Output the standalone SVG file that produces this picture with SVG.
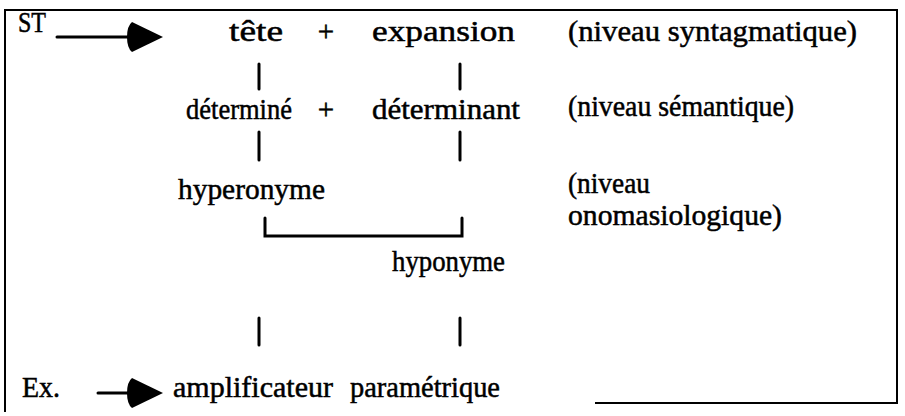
<svg xmlns="http://www.w3.org/2000/svg" width="905" height="416" viewBox="0 0 905 416">
<style>
text{font-family:"Liberation Serif","Times New Roman",serif;font-size:29px;fill:#000;stroke:#000;stroke-width:0.5}
.ln{stroke:#000;stroke-width:3;fill:none;stroke-linecap:round}
.frame{stroke:#000;stroke-width:2;fill:none}
</style>
<defs>
<path id="head" d="M0,0 Q0,-11 5,-15 L36,0 L5,15 Q0,11 0,0 Z" fill="#000"/>
</defs>
<rect width="905" height="416" fill="#fff"/>
<path class="frame" d="M5,412 L5,10 L897,10 L897,403 L595,403"/>
<g id="connectors">
<line class="ln" x1="57" y1="37" x2="130" y2="37"/>
<use href="#head" x="127" y="37"/>
<line class="ln" x1="259" y1="64" x2="259" y2="89"/>
<line class="ln" x1="460" y1="64" x2="460" y2="89"/>
<line class="ln" x1="259" y1="132" x2="259" y2="160"/>
<line class="ln" x1="460" y1="132" x2="460" y2="160"/>
<path class="ln" d="M265,218 L265,236 L462,236 L462,218"/>
<line class="ln" x1="259" y1="318" x2="259" y2="345"/>
<line class="ln" x1="460" y1="318" x2="460" y2="345"/>
<line class="ln" x1="98" y1="393" x2="130" y2="393"/>
<use href="#head" x="127" y="393"/>
</g>
<g id="st"><text x="18" y="32" textLength="28" lengthAdjust="spacingAndGlyphs">ST</text></g>
<g id="tete"><text x="229" y="41" textLength="54" lengthAdjust="spacingAndGlyphs">tête</text></g>
<g id="plus1"><text x="326" y="41" text-anchor="middle">+</text></g>
<g id="expansion"><text x="372" y="41" textLength="143" lengthAdjust="spacingAndGlyphs">expansion</text></g>
<g id="niv-synt"><text x="568" y="41" textLength="289" lengthAdjust="spacingAndGlyphs">(niveau syntagmatique)</text></g>
<g id="determine"><text x="186" y="119" textLength="106" lengthAdjust="spacingAndGlyphs">déterminé</text></g>
<g id="plus2"><text x="326" y="119" text-anchor="middle">+</text></g>
<g id="determinant"><text x="372" y="119" textLength="148" lengthAdjust="spacingAndGlyphs">déterminant</text></g>
<g id="niv-sem"><text x="568" y="116" textLength="226" lengthAdjust="spacingAndGlyphs">(niveau sémantique)</text></g>
<g id="hyperonyme"><text x="178" y="199" textLength="147" lengthAdjust="spacingAndGlyphs">hyperonyme</text></g>
<g id="niv-onom"><text x="568" y="193" textLength="82" lengthAdjust="spacingAndGlyphs">(niveau</text><text x="568" y="225" textLength="214" lengthAdjust="spacingAndGlyphs">onomasiologique)</text></g>
<g id="hyponyme"><text x="392" y="271" textLength="113" lengthAdjust="spacingAndGlyphs">hyponyme</text></g>
<g id="ex"><text x="22" y="397" textLength="38" lengthAdjust="spacingAndGlyphs">Ex.</text></g>
<g id="amplificateur"><text x="173" y="397" textLength="160" lengthAdjust="spacingAndGlyphs">amplificateur</text></g>
<g id="parametrique"><text x="350" y="397" textLength="150" lengthAdjust="spacingAndGlyphs">paramétrique</text></g>
</svg>
